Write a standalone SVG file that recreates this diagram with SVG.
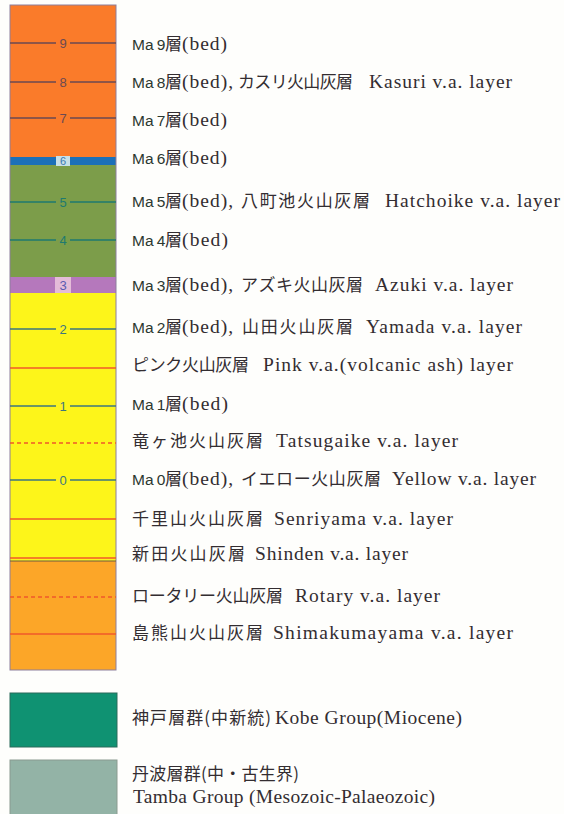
<svg xmlns="http://www.w3.org/2000/svg" width="564" height="814" viewBox="0 0 564 814">
<style>
text{fill:#332d31}
.en{font-family:"Liberation Serif","Times New Roman",serif;font-size:19.5px}
.ma{font-family:"Liberation Sans",Arial,sans-serif;font-size:15.5px;word-spacing:-1px;fill:#2c3830}
.jp{font-family:"Noto Sans CJK JP","Noto Sans CJK SC",sans-serif;font-size:17px}
.num{font-family:"Liberation Sans",sans-serif;font-size:13px;text-anchor:middle}
.bo{stroke:#6b4a52;stroke-width:1.5}
.bg{stroke:#1e7a70;stroke-width:1.5}
.by{stroke:#3d7680;stroke-width:1.5}
.red{stroke:#f0582a;stroke-width:1.5}
.dash{stroke:#f0582a;stroke-width:1.5;stroke-dasharray:4 3}
</style>
<rect width="564" height="814" fill="#fefefc"/>
<g id="column">
<rect x="10" y="5" width="106" height="152" fill="#fa7b2a"/>
<rect x="10" y="157" width="106" height="8" fill="#1c70b8"/>
<rect x="10" y="165" width="106" height="112" fill="#7c9d4a"/>
<rect x="10" y="277" width="106" height="16" fill="#b578bc"/>
<rect x="10" y="293" width="106" height="268" fill="#fdf51a"/>
<rect x="10" y="561" width="106" height="109" fill="#fca628"/>
<rect x="10" y="5" width="106" height="665" fill="none" stroke="#8c7f9c" stroke-width="1"/>
</g>
<g id="connectors" fill="none">
<path class="bo" d="M10 43H56M70 43H116"/>
<path class="bo" d="M10 82H56M70 82H116"/>
<path class="bo" d="M10 118H56M70 118H116"/>
<path class="bg" d="M10 202H56M70 202H116"/>
<path class="bg" d="M10 240H56M70 240H116"/>
<path class="by" d="M10 329H56M70 329H116"/>
<path class="red" d="M10 368H116"/>
<path class="by" d="M10 406H56M70 406H116"/>
<path class="dash" d="M10 443H116"/>
<path class="by" d="M10 480H56M70 480H116"/>
<path class="red" d="M10 519H116"/>
<path class="red" d="M10 558H116"/>
<path stroke="#6b5a40" stroke-width="1" d="M10 561H116"/>
<path class="dash" d="M10 597H116"/>
<path class="red" d="M10 634H116"/>
</g>
<g id="numbers">
<text class="num" x="63" y="48" style="fill:#6b4a52">9</text>
<text class="num" x="63" y="87" style="fill:#6b4a52">8</text>
<text class="num" x="63" y="123" style="fill:#6b4a52">7</text>
<rect x="56" y="156" width="14" height="10" fill="#c8e0e8"/>
<text class="num" x="63" y="165" style="fill:#3a78b0;font-size:11px">6</text>
<text class="num" x="63" y="207" style="fill:#1e7a70">5</text>
<text class="num" x="63" y="245" style="fill:#1e7a70">4</text>
<rect x="55" y="277" width="16" height="16" fill="#e4bcd8"/>
<text class="num" x="63" y="290" style="fill:#5a5ab0">3</text>
<text class="num" x="63" y="334" style="fill:#3d7680">2</text>
<text class="num" x="63" y="411" style="fill:#3d7680">1</text>
<text class="num" x="63" y="485" style="fill:#3d7680">0</text>
</g>
<g id="label-ma9">
<text class="ma" x="132" y="50">Ma 9</text>
<text class="jp" x="165" y="50">層</text>
<text class="en" x="182" y="50" textLength="45" lengthAdjust="spacing">(bed)</text>
</g>
<g id="label-ma8">
<text class="ma" x="132" y="88">Ma 8</text>
<text class="jp" x="165" y="88">層</text>
<text class="en" x="182" y="88" textLength="51" lengthAdjust="spacing">(bed),</text>
<text class="jp" x="238" y="88" textLength="115" lengthAdjust="spacing">カスリ火山灰層</text>
<text class="en" x="369" y="88" textLength="143" lengthAdjust="spacing">Kasuri v.a. layer</text>
</g>
<g id="label-ma7">
<text class="ma" x="132" y="126">Ma 7</text>
<text class="jp" x="165" y="126">層</text>
<text class="en" x="182" y="126" textLength="45" lengthAdjust="spacing">(bed)</text>
</g>
<g id="label-ma6">
<text class="ma" x="132" y="164">Ma 6</text>
<text class="jp" x="165" y="164">層</text>
<text class="en" x="182" y="164" textLength="45" lengthAdjust="spacing">(bed)</text>
</g>
<g id="label-ma5">
<text class="ma" x="132" y="207">Ma 5</text>
<text class="jp" x="165" y="207">層</text>
<text class="en" x="182" y="207" textLength="51" lengthAdjust="spacing">(bed),</text>
<text class="jp" x="241" y="207" textLength="129" lengthAdjust="spacing">八町池火山灰層</text>
<text class="en" x="385" y="207" textLength="175" lengthAdjust="spacing">Hatchoike v.a. layer</text>
</g>
<g id="label-ma4">
<text class="ma" x="132" y="246">Ma 4</text>
<text class="jp" x="165" y="246">層</text>
<text class="en" x="182" y="246" textLength="46" lengthAdjust="spacing">(bed)</text>
</g>
<g id="label-ma3">
<text class="ma" x="132" y="291">Ma 3</text>
<text class="jp" x="165" y="291">層</text>
<text class="en" x="182" y="291" textLength="51" lengthAdjust="spacing">(bed),</text>
<text class="jp" x="241" y="291" textLength="122" lengthAdjust="spacing">アズキ火山灰層</text>
<text class="en" x="375" y="291" textLength="138" lengthAdjust="spacing">Azuki v.a. layer</text>
</g>
<g id="label-ma2">
<text class="ma" x="132" y="333">Ma 2</text>
<text class="jp" x="165" y="333">層</text>
<text class="en" x="182" y="333" textLength="51" lengthAdjust="spacing">(bed),</text>
<text class="jp" x="242" y="333" textLength="111" lengthAdjust="spacing">山田火山灰層</text>
<text class="en" x="366" y="333" textLength="156" lengthAdjust="spacing">Yamada v.a. layer</text>
</g>
<g id="label-pink">
<text class="jp" x="132" y="371" textLength="117" lengthAdjust="spacing">ピンク火山灰層</text>
<text class="en" x="263" y="371" textLength="250" lengthAdjust="spacing">Pink v.a.(volcanic ash)  layer</text>
</g>
<g id="label-ma1">
<text class="ma" x="132" y="410">Ma 1</text>
<text class="jp" x="165" y="410">層</text>
<text class="en" x="182" y="410" textLength="46" lengthAdjust="spacing">(bed)</text>
</g>
<g id="label-tatsugaike">
<text class="jp" x="132" y="447" textLength="131" lengthAdjust="spacing">竜ヶ池火山灰層</text>
<text class="en" x="276" y="447" textLength="182" lengthAdjust="spacing">Tatsugaike v.a. layer</text>
</g>
<g id="label-ma0">
<text class="ma" x="132" y="485">Ma 0</text>
<text class="jp" x="165" y="485">層</text>
<text class="en" x="182" y="485" textLength="51" lengthAdjust="spacing">(bed),</text>
<text class="jp" x="241" y="485" textLength="140" lengthAdjust="spacing">イエロー火山灰層</text>
<text class="en" x="392" y="485" textLength="144" lengthAdjust="spacing">Yellow v.a. layer</text>
</g>
<g id="label-senriyama">
<text class="jp" x="132" y="525" textLength="131" lengthAdjust="spacing">千里山火山灰層</text>
<text class="en" x="274" y="525" textLength="179" lengthAdjust="spacing">Senriyama v.a. layer</text>
</g>
<g id="label-shinden">
<text class="jp" x="132" y="560" textLength="113" lengthAdjust="spacing">新田火山灰層</text>
<text class="en" x="255" y="560" textLength="153" lengthAdjust="spacing">Shinden v.a. layer</text>
</g>
<g id="label-rotary">
<text class="jp" x="132" y="602" textLength="151" lengthAdjust="spacing">ロータリー火山灰層</text>
<text class="en" x="295" y="602" textLength="145" lengthAdjust="spacing">Rotary v.a. layer</text>
</g>
<g id="label-shimakumayama">
<text class="jp" x="132" y="639" textLength="131" lengthAdjust="spacing">島熊山火山灰層</text>
<text class="en" x="273" y="639" textLength="240" lengthAdjust="spacing">Shimakumayama v.a. layer</text>
</g>
<g id="legend-kobe">
<rect x="10" y="693" width="107" height="54" fill="#0f9272" stroke="#2a6a5a" stroke-width="1"/>
<text class="jp" x="132" y="724" textLength="139" lengthAdjust="spacing">神戸層群(中新統)</text>
<text class="en" x="275" y="724" textLength="187" lengthAdjust="spacing">Kobe Group(Miocene)</text>
</g>
<g id="legend-tamba">
<rect x="10" y="760" width="107" height="60" fill="#93b3a6" stroke="#8a9a90" stroke-width="1"/>
<text class="jp" x="132" y="780" textLength="167" lengthAdjust="spacing">丹波層群(中・古生界)</text>
<text class="en" x="133" y="803" textLength="302" lengthAdjust="spacing">Tamba Group (Mesozoic-Palaeozoic)</text>
</g>
</svg>
